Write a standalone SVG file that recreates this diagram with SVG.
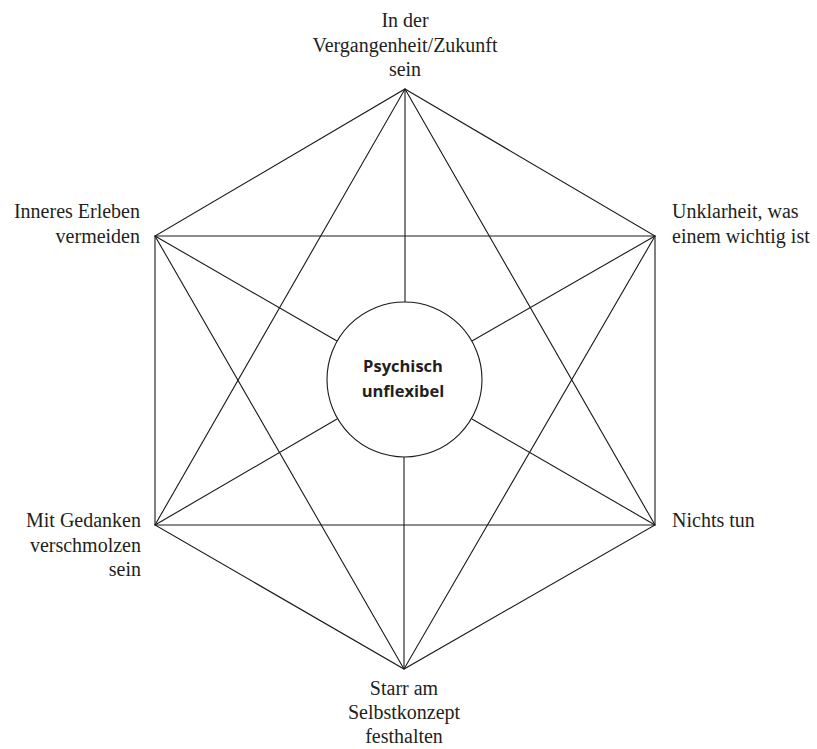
<svg xmlns="http://www.w3.org/2000/svg" width="817" height="749" viewBox="0 0 817 749">
<style>
.l{stroke:#1a1a1a;stroke-width:1.1;fill:none}
.t{font-family:"Liberation Serif","Times New Roman",serif;font-size:20px;fill:#231f20}
.c{font-family:"Open Sans","Liberation Sans",sans-serif;font-size:16.5px;font-weight:bold;fill:#231f20;text-anchor:middle}
</style>
<rect width="817" height="749" fill="#fff"/>
<g id="connectors" class="l">
<polygon points="405,89 655,236 655,525 404,669 155,525 155,236"/>
<polygon points="405,89 655,525 155,525"/>
<polygon points="404,669 155,236 655,236"/>
<line x1="405" y1="89" x2="405" y2="302"/>
<line x1="404" y1="457" x2="404" y2="669"/>
<line x1="155" y1="236" x2="337" y2="341"/>
<line x1="655" y1="236" x2="472" y2="341"/>
<line x1="155" y1="525" x2="337" y2="419"/>
<line x1="655" y1="525" x2="472" y2="419"/>
</g>
<g id="center">
<circle cx="404.5" cy="379.5" r="77.5" fill="#fff" stroke="#1a1a1a" stroke-width="1.1"/>
<text class="c" x="403" y="372">Psychisch</text>
<text class="c" x="403" y="397">unflexibel</text>
</g>
<g id="n-top" class="t" text-anchor="middle">
<text x="405" y="27">In der</text>
<text x="405" y="52">Vergangenheit/Zukunft</text>
<text x="405" y="76">sein</text>
</g>
<g id="n-ul" class="t" text-anchor="end">
<text x="140" y="218">Inneres Erleben</text>
<text x="140" y="243">vermeiden</text>
</g>
<g id="n-ur" class="t">
<text x="672" y="218">Unklarheit, was</text>
<text x="672" y="243">einem wichtig ist</text>
</g>
<g id="n-ll" class="t" text-anchor="end">
<text x="141" y="527">Mit Gedanken</text>
<text x="141" y="552">verschmolzen</text>
<text x="141" y="576">sein</text>
</g>
<g id="n-lr" class="t">
<text x="672" y="527">Nichts tun</text>
</g>
<g id="n-bottom" class="t" text-anchor="middle">
<text x="404" y="695">Starr am</text>
<text x="404" y="719">Selbstkonzept</text>
<text x="404" y="743">festhalten</text>
</g>
</svg>
